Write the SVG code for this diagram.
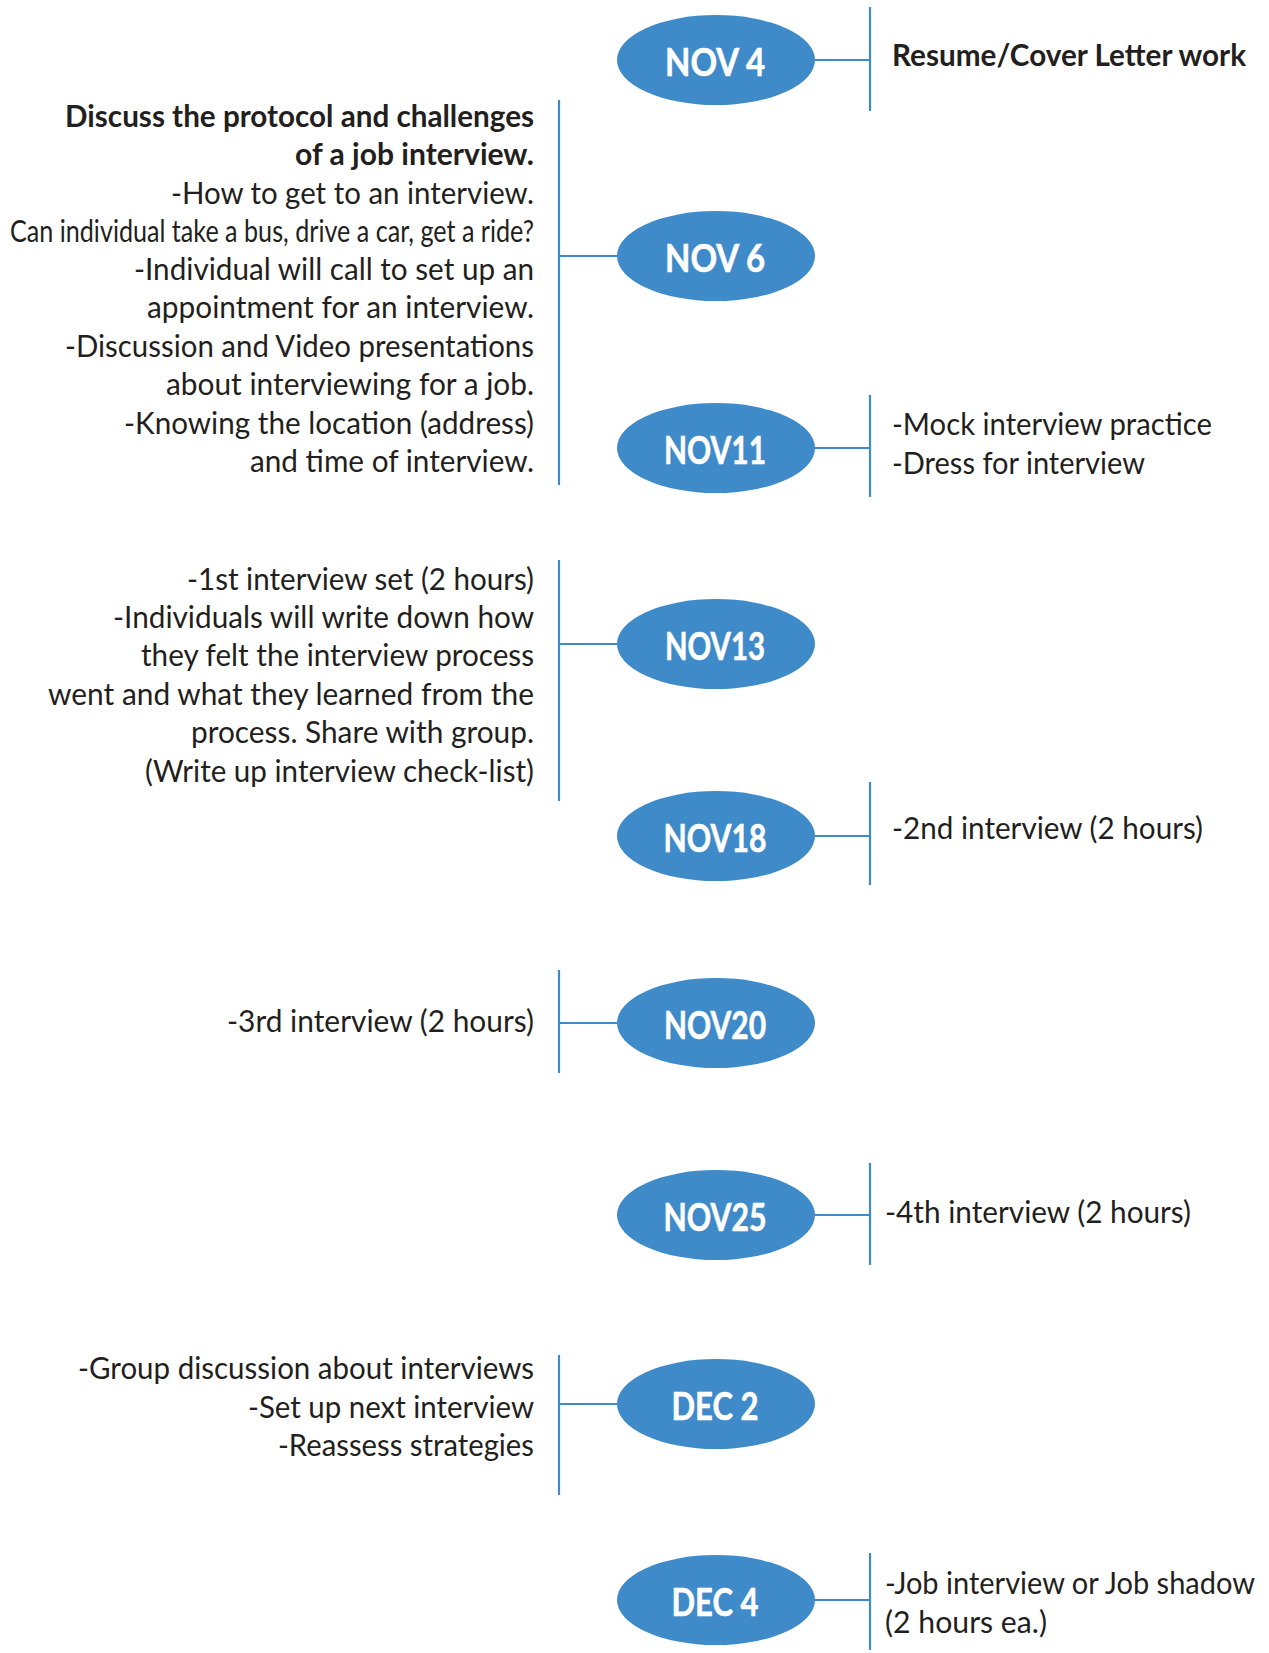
<svg xmlns="http://www.w3.org/2000/svg" width="1269" height="1653" viewBox="0 0 1269 1653">
<style>
.oval{fill:#3F8BC9;}
.lbl{font-family:Lato,"Liberation Sans",sans-serif;font-weight:bold;font-size:39px;fill:#ffffff;text-anchor:middle;stroke:#ffffff;stroke-width:0.6;}
.t{font-family:Lato,"Liberation Sans",sans-serif;font-size:31px;fill:#231F20;}
.b{font-weight:bold;}
.l{text-anchor:end;}
.c line{stroke:#3F8BC9;stroke-width:2.2;}
</style>
<rect width="1269" height="1653" fill="#ffffff"/>
<g class="c" id="connectors">
<line x1="815" y1="60" x2="870" y2="60"/><line x1="870" y1="7" x2="870" y2="111"/>
<line x1="617" y1="256" x2="559" y2="256"/><line x1="559" y1="100" x2="559" y2="485"/>
<line x1="815" y1="448" x2="870" y2="448"/><line x1="870" y1="395" x2="870" y2="497"/>
<line x1="617" y1="644" x2="559" y2="644"/><line x1="559" y1="560" x2="559" y2="801"/>
<line x1="815" y1="836" x2="870" y2="836"/><line x1="870" y1="782" x2="870" y2="885"/>
<line x1="617" y1="1023" x2="559" y2="1023"/><line x1="559" y1="970" x2="559" y2="1073"/>
<line x1="815" y1="1215" x2="870" y2="1215"/><line x1="870" y1="1163" x2="870" y2="1265"/>
<line x1="617" y1="1404" x2="559" y2="1404"/><line x1="559" y1="1355" x2="559" y2="1495"/>
<line x1="815" y1="1600" x2="870" y2="1600"/><line x1="870" y1="1553" x2="870" y2="1650"/>
</g>
<g id="nov4"><ellipse class="oval" cx="716" cy="60" rx="99" ry="45"/><text class="lbl" x="715" y="76" textLength="100" lengthAdjust="spacingAndGlyphs">NOV 4</text></g>
<g id="nov6"><ellipse class="oval" cx="716" cy="256" rx="99" ry="45"/><text class="lbl" x="715" y="272" textLength="100" lengthAdjust="spacingAndGlyphs">NOV 6</text></g>
<g id="nov11"><ellipse class="oval" cx="716" cy="448" rx="99" ry="45"/><text class="lbl" x="715" y="464" textLength="102" lengthAdjust="spacingAndGlyphs">NOV11</text></g>
<g id="nov13"><ellipse class="oval" cx="716" cy="644" rx="99" ry="45"/><text class="lbl" x="715" y="660" textLength="100" lengthAdjust="spacingAndGlyphs">NOV13</text></g>
<g id="nov18"><ellipse class="oval" cx="716" cy="836" rx="99" ry="45"/><text class="lbl" x="715" y="852" textLength="103" lengthAdjust="spacingAndGlyphs">NOV18</text></g>
<g id="nov20"><ellipse class="oval" cx="716" cy="1023" rx="99" ry="45"/><text class="lbl" x="715" y="1039" textLength="102" lengthAdjust="spacingAndGlyphs">NOV20</text></g>
<g id="nov25"><ellipse class="oval" cx="716" cy="1215" rx="99" ry="45"/><text class="lbl" x="715" y="1231" textLength="103" lengthAdjust="spacingAndGlyphs">NOV25</text></g>
<g id="dec2"><ellipse class="oval" cx="716" cy="1404" rx="99" ry="45"/><text class="lbl" x="715" y="1420" textLength="87" lengthAdjust="spacingAndGlyphs">DEC 2</text></g>
<g id="dec4"><ellipse class="oval" cx="716" cy="1600" rx="99" ry="45"/><text class="lbl" x="715" y="1616" textLength="87" lengthAdjust="spacingAndGlyphs">DEC 4</text></g>
<g id="text-nov4"><text class="t b" x="892" y="66" textLength="354" lengthAdjust="spacingAndGlyphs">Resume/Cover Letter work</text></g>
<g id="text-nov6">
<text class="t b l" x="534" y="127" textLength="469" lengthAdjust="spacingAndGlyphs">Discuss the protocol and challenges</text>
<text class="t b l" x="534" y="165" textLength="239" lengthAdjust="spacingAndGlyphs">of a job interview.</text>
<text class="t l" x="534" y="204" textLength="363" lengthAdjust="spacingAndGlyphs">-How to get to an interview.</text>
<text class="t l" x="534" y="242" textLength="524" lengthAdjust="spacingAndGlyphs">Can individual take a bus, drive a car, get a ride?</text>
<text class="t l" x="534" y="280" textLength="400" lengthAdjust="spacingAndGlyphs">-Individual will call to set up an</text>
<text class="t l" x="534" y="318" textLength="387" lengthAdjust="spacingAndGlyphs">appointment for an interview.</text>
<text class="t l" x="534" y="357" textLength="469" lengthAdjust="spacingAndGlyphs">-Discussion and Video presentations</text>
<text class="t l" x="534" y="395" textLength="368" lengthAdjust="spacingAndGlyphs">about interviewing for a job.</text>
<text class="t l" x="534" y="434" textLength="410" lengthAdjust="spacingAndGlyphs">-Knowing the location (address)</text>
<text class="t l" x="534" y="472" textLength="284" lengthAdjust="spacingAndGlyphs">and time of interview.</text>
</g>
<g id="text-nov11">
<text class="t" x="892" y="435" textLength="320" lengthAdjust="spacingAndGlyphs">-Mock interview practice</text>
<text class="t" x="892" y="474" textLength="253" lengthAdjust="spacingAndGlyphs">-Dress for interview</text>
</g>
<g id="text-nov13">
<text class="t l" x="534" y="590" textLength="347" lengthAdjust="spacingAndGlyphs">-1st interview set (2 hours)</text>
<text class="t l" x="534" y="628" textLength="421" lengthAdjust="spacingAndGlyphs">-Individuals will write down how</text>
<text class="t l" x="534" y="666" textLength="393" lengthAdjust="spacingAndGlyphs">they felt the interview process</text>
<text class="t l" x="534" y="705" textLength="486" lengthAdjust="spacingAndGlyphs">went and what they learned from the</text>
<text class="t l" x="534" y="743" textLength="343" lengthAdjust="spacingAndGlyphs">process. Share with group.</text>
<text class="t l" x="534" y="782" textLength="389" lengthAdjust="spacingAndGlyphs">(Write up interview check-list)</text>
</g>
<g id="text-nov18"><text class="t" x="892" y="839" textLength="311" lengthAdjust="spacingAndGlyphs">-2nd interview (2 hours)</text></g>
<g id="text-nov20"><text class="t l" x="534" y="1032" textLength="307" lengthAdjust="spacingAndGlyphs">-3rd interview (2 hours)</text></g>
<g id="text-nov25"><text class="t" x="885" y="1223" textLength="306" lengthAdjust="spacingAndGlyphs">-4th interview (2 hours)</text></g>
<g id="text-dec2">
<text class="t l" x="534" y="1379" textLength="456" lengthAdjust="spacingAndGlyphs">-Group discussion about interviews</text>
<text class="t l" x="534" y="1418" textLength="286" lengthAdjust="spacingAndGlyphs">-Set up next interview</text>
<text class="t l" x="534" y="1456" textLength="256" lengthAdjust="spacingAndGlyphs">-Reassess strategies</text>
</g>
<g id="text-dec4">
<text class="t" x="885" y="1594" textLength="370" lengthAdjust="spacingAndGlyphs">-Job interview or Job shadow</text>
<text class="t" x="885" y="1633" textLength="162" lengthAdjust="spacingAndGlyphs">(2 hours ea.)</text>
</g>
</svg>
